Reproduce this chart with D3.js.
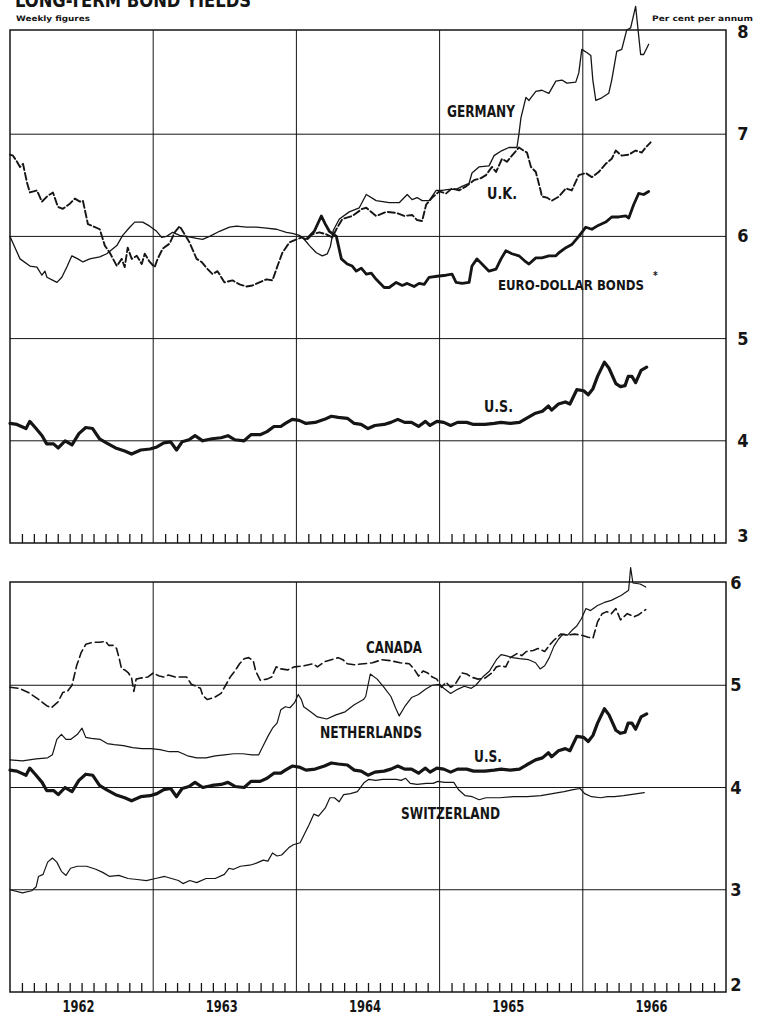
<!DOCTYPE html>
<html>
<head>
<meta charset="utf-8">
<script src="https://cdn.jsdelivr.net/npm/d3@7/dist/d3.min.js"></script>
<style>
  html, body { margin: 0; padding: 0; background: #fff; }
  svg { display: block; }
</style>
</head>
<body>
<svg id="chart" width="757" height="1018"></svg>
<script>
// ---------- DATA (decimal year, per cent per annum) ----------
const yearLabels = ["1962", "1963", "1964", "1965", "1966"];
const topTicks = [3, 4, 5, 6, 7, 8];
const bottomTicks = [2, 3, 4, 5, 6];

const germany = [
  [1962.000,6.00],[1962.070,5.78],[1962.139,5.71],[1962.188,5.70],[1962.223,5.62],[1962.244,5.66],[1962.258,5.60],
  [1962.300,5.57],[1962.328,5.55],[1962.362,5.60],[1962.397,5.70],[1962.432,5.81],[1962.474,5.78],[1962.509,5.75],
  [1962.557,5.78],[1962.627,5.80],[1962.676,5.83],[1962.746,5.91],[1962.787,6.01],[1962.836,6.09],[1962.871,6.14],
  [1962.927,6.14],[1962.976,6.10],[1963.024,6.05],[1963.059,5.99],[1963.094,6.00],[1963.136,6.04],[1963.185,6.01],
  [1963.233,6.00],[1963.303,5.98],[1963.345,5.97],[1963.394,6.00],[1963.463,6.05],[1963.533,6.09],[1963.582,6.10],
  [1963.652,6.09],[1963.721,6.09],[1963.791,6.08],[1963.861,6.07],[1963.930,6.04],[1963.972,6.03],[1964.021,6.01],
  [1964.056,5.97],[1964.091,5.91],[1964.139,5.84],[1964.181,5.81],[1964.216,5.83],[1964.237,5.90],[1964.258,6.06],
  [1964.300,6.17],[1964.369,6.24],[1964.439,6.28],[1964.488,6.41],[1964.557,6.35],[1964.648,6.33],[1964.718,6.33],
  [1964.774,6.41],[1964.808,6.36],[1964.843,6.38],[1964.878,6.35],[1964.927,6.35],[1964.976,6.45],[1965.017,6.45],
  [1965.066,6.46],[1965.115,6.46],[1965.157,6.49],[1965.206,6.52],[1965.226,6.62],[1965.275,6.68],[1965.345,6.69],
  [1965.380,6.79],[1965.436,6.84],[1965.484,6.87],[1965.540,6.87],[1965.554,7.00],[1965.568,7.16],[1965.603,7.36],
  [1965.624,7.33],[1965.672,7.42],[1965.714,7.43],[1965.763,7.40],[1965.812,7.52],[1965.854,7.53],[1965.889,7.50],
  [1965.951,7.51],[1965.972,7.60],[1965.993,7.83],[1966.028,7.80],[1966.056,7.77],[1966.070,7.53],[1966.091,7.33],
  [1966.125,7.35],[1966.181,7.40],[1966.202,7.53],[1966.237,7.81],[1966.272,7.83],[1966.307,8.02],[1966.334,8.04],
  [1966.369,8.25],[1966.404,7.78],[1966.425,7.78],[1966.460,7.88]
];

const uk = [
  [1962.000,6.80],[1962.021,6.79],[1962.049,6.73],[1962.070,6.68],[1962.091,6.71],[1962.118,6.53],[1962.139,6.43],
  [1962.188,6.45],[1962.223,6.34],[1962.258,6.39],[1962.300,6.43],[1962.334,6.29],[1962.369,6.27],[1962.418,6.32],
  [1962.453,6.37],[1962.488,6.34],[1962.509,6.35],[1962.544,6.12],[1962.578,6.10],[1962.627,6.07],[1962.662,5.91],
  [1962.697,5.84],[1962.746,5.71],[1962.780,5.78],[1962.801,5.70],[1962.822,5.89],[1962.850,5.78],[1962.885,5.81],
  [1962.920,5.73],[1962.941,5.83],[1962.976,5.75],[1963.010,5.70],[1963.031,5.78],[1963.066,5.88],[1963.115,5.93],
  [1963.150,6.04],[1963.185,6.10],[1963.220,6.02],[1963.254,5.94],[1963.303,5.78],[1963.338,5.75],[1963.380,5.68],
  [1963.415,5.63],[1963.449,5.66],[1963.498,5.55],[1963.554,5.57],[1963.603,5.53],[1963.652,5.51],[1963.693,5.52],
  [1963.742,5.55],[1963.791,5.58],[1963.833,5.57],[1963.868,5.71],[1963.902,5.84],[1963.951,5.94],[1964.000,5.97],
  [1964.035,5.99],[1964.070,5.97],[1964.111,6.02],[1964.160,6.04],[1964.209,6.02],[1964.251,5.99],[1964.279,6.07],
  [1964.321,6.17],[1964.390,6.20],[1964.460,6.27],[1964.488,6.28],[1964.557,6.20],[1964.627,6.24],[1964.697,6.23],
  [1964.753,6.20],[1964.808,6.21],[1964.843,6.16],[1964.878,6.15],[1964.906,6.31],[1964.948,6.38],[1964.997,6.44],
  [1965.045,6.42],[1965.087,6.47],[1965.136,6.45],[1965.185,6.49],[1965.240,6.55],[1965.289,6.57],[1965.324,6.60],
  [1965.366,6.68],[1965.394,6.63],[1965.436,6.76],[1965.470,6.73],[1965.505,6.79],[1965.554,6.87],[1965.575,6.85],
  [1965.610,6.82],[1965.638,6.68],[1965.672,6.63],[1965.707,6.44],[1965.714,6.39],[1965.749,6.38],[1965.784,6.35],
  [1965.833,6.39],[1965.882,6.47],[1965.923,6.45],[1965.972,6.60],[1966.021,6.62],[1966.063,6.58],[1966.111,6.63],
  [1966.160,6.71],[1966.202,6.76],[1966.230,6.84],[1966.272,6.79],[1966.321,6.80],[1966.369,6.84],[1966.411,6.82],
  [1966.439,6.87],[1966.474,6.92]
];

const euroDollar = [
  [1964.077,5.98],[1964.125,6.05],[1964.174,6.20],[1964.202,6.12],[1964.230,6.05],[1964.279,6.00],[1964.314,5.78],
  [1964.355,5.73],[1964.390,5.71],[1964.418,5.66],[1964.453,5.69],[1964.488,5.63],[1964.523,5.64],[1964.557,5.58],
  [1964.613,5.50],[1964.648,5.50],[1964.697,5.55],[1964.739,5.52],[1964.774,5.54],[1964.822,5.51],[1964.857,5.54],
  [1964.892,5.53],[1964.927,5.60],[1964.983,5.61],[1965.045,5.62],[1965.087,5.63],[1965.115,5.55],[1965.157,5.54],
  [1965.206,5.55],[1965.226,5.71],[1965.261,5.78],[1965.296,5.73],[1965.345,5.66],[1965.394,5.68],[1965.429,5.78],
  [1965.463,5.86],[1965.505,5.83],[1965.554,5.81],[1965.603,5.75],[1965.624,5.73],[1965.672,5.79],[1965.714,5.79],
  [1965.763,5.81],[1965.812,5.81],[1965.833,5.84],[1965.882,5.89],[1965.923,5.92],[1965.972,6.00],[1966.021,6.09],
  [1966.063,6.07],[1966.111,6.11],[1966.160,6.14],[1966.202,6.19],[1966.251,6.19],[1966.300,6.20],[1966.321,6.18],
  [1966.355,6.31],[1966.390,6.42],[1966.425,6.41],[1966.460,6.44]
];

const us = [
  [1962.000,4.17],[1962.048,4.16],[1962.112,4.12],[1962.138,4.19],[1962.176,4.13],[1962.224,4.05],[1962.256,3.97],
  [1962.304,3.97],[1962.337,3.93],[1962.385,4.00],[1962.433,3.96],[1962.481,4.07],[1962.529,4.13],[1962.577,4.12],
  [1962.625,4.02],[1962.673,3.98],[1962.737,3.93],[1962.801,3.90],[1962.849,3.87],[1962.913,3.91],[1962.978,3.92],
  [1963.026,3.94],[1963.074,3.98],[1963.122,3.99],[1963.163,3.91],[1963.202,3.99],[1963.250,4.01],[1963.292,4.05],
  [1963.346,4.00],[1963.410,4.02],[1963.474,4.03],[1963.522,4.05],[1963.571,4.01],[1963.635,4.00],[1963.683,4.06],
  [1963.747,4.06],[1963.795,4.09],[1963.843,4.14],[1963.891,4.14],[1963.923,4.17],[1963.971,4.21],[1964.019,4.20],
  [1964.067,4.17],[1964.131,4.18],[1964.196,4.21],[1964.244,4.24],[1964.292,4.23],[1964.356,4.22],[1964.404,4.17],
  [1964.452,4.16],[1964.500,4.12],[1964.548,4.15],[1964.612,4.16],[1964.660,4.18],[1964.708,4.21],[1964.756,4.18],
  [1964.804,4.18],[1964.853,4.14],[1964.901,4.19],[1964.933,4.15],[1964.981,4.19],[1965.029,4.18],[1965.077,4.15],
  [1965.125,4.18],[1965.189,4.18],[1965.237,4.16],[1965.317,4.16],[1965.381,4.17],[1965.429,4.18],[1965.494,4.17],
  [1965.558,4.18],[1965.606,4.22],[1965.670,4.27],[1965.718,4.29],[1965.760,4.34],[1965.782,4.30],[1965.830,4.36],
  [1965.878,4.38],[1965.910,4.36],[1965.958,4.50],[1966.006,4.49],[1966.038,4.45],[1966.071,4.51],[1966.103,4.63],
  [1966.151,4.77],[1966.183,4.71],[1966.231,4.56],[1966.263,4.53],[1966.295,4.54],[1966.317,4.63],[1966.343,4.63],
  [1966.369,4.57],[1966.407,4.69],[1966.446,4.72]
];

const canada = [
  [1962.000,4.98],[1962.064,4.97],[1962.128,4.93],[1962.192,4.87],[1962.256,4.80],[1962.288,4.78],[1962.337,4.84],
  [1962.369,4.93],[1962.401,4.94],[1962.433,5.00],[1962.465,5.19],[1962.497,5.32],[1962.529,5.40],[1962.577,5.42],
  [1962.625,5.42],[1962.667,5.43],[1962.689,5.39],[1962.721,5.39],[1962.744,5.36],[1962.763,5.26],[1962.779,5.16],
  [1962.801,5.15],[1962.827,5.12],[1962.849,5.07],[1962.865,4.94],[1962.881,5.06],[1962.913,5.07],[1962.962,5.08],
  [1963.000,5.12],[1963.042,5.09],[1963.074,5.08],[1963.106,5.10],[1963.154,5.08],[1963.202,5.08],[1963.234,5.08],
  [1963.266,5.01],[1963.298,4.99],[1963.330,4.97],[1963.346,4.90],[1963.378,4.86],[1963.426,4.88],[1963.474,4.92],
  [1963.506,5.00],[1963.538,5.08],[1963.571,5.14],[1963.603,5.21],[1963.635,5.26],[1963.667,5.27],[1963.699,5.24],
  [1963.715,5.14],[1963.747,5.05],[1963.795,5.06],[1963.827,5.08],[1963.859,5.18],[1963.891,5.16],[1963.939,5.15],
  [1963.987,5.18],[1964.051,5.19],[1964.115,5.21],[1964.147,5.18],[1964.196,5.23],[1964.244,5.25],[1964.292,5.27],
  [1964.324,5.25],[1964.356,5.21],[1964.404,5.20],[1964.468,5.21],[1964.532,5.22],[1964.596,5.25],[1964.660,5.24],
  [1964.724,5.22],[1964.788,5.21],[1964.821,5.16],[1964.853,5.09],[1964.885,5.14],[1964.917,5.12],[1964.949,5.08],
  [1964.981,5.06],[1965.013,4.98],[1965.045,5.03],[1965.077,4.98],[1965.109,5.01],[1965.157,5.12],[1965.189,5.11],
  [1965.221,5.08],[1965.269,5.06],[1965.317,5.07],[1965.365,5.12],[1965.397,5.18],[1965.429,5.19],[1965.462,5.18],
  [1965.494,5.27],[1965.542,5.31],[1965.574,5.29],[1965.606,5.33],[1965.654,5.34],[1965.686,5.36],[1965.734,5.33],
  [1965.766,5.39],[1965.798,5.44],[1965.846,5.50],[1965.894,5.49],[1965.942,5.50],[1965.990,5.49],[1966.038,5.47],
  [1966.071,5.46],[1966.103,5.62],[1966.135,5.70],[1966.167,5.72],[1966.199,5.70],[1966.231,5.75],[1966.263,5.64],
  [1966.311,5.70],[1966.359,5.67],[1966.391,5.69],[1966.439,5.74]
];

const netherlands = [
  [1962.000,4.27],[1962.087,4.26],[1962.183,4.28],[1962.263,4.29],[1962.296,4.32],[1962.327,4.47],[1962.359,4.52],
  [1962.391,4.47],[1962.423,4.47],[1962.471,4.52],[1962.503,4.58],[1962.529,4.49],[1962.567,4.48],[1962.631,4.47],
  [1962.679,4.43],[1962.728,4.42],[1962.792,4.41],[1962.856,4.39],[1962.920,4.38],[1962.984,4.38],[1963.048,4.37],
  [1963.112,4.35],[1963.176,4.35],[1963.240,4.31],[1963.304,4.29],[1963.369,4.29],[1963.433,4.31],[1963.497,4.32],
  [1963.561,4.33],[1963.625,4.33],[1963.689,4.32],[1963.737,4.32],[1963.769,4.41],[1963.801,4.50],[1963.833,4.58],
  [1963.865,4.63],[1963.891,4.76],[1963.923,4.79],[1963.955,4.78],[1963.987,4.83],[1964.013,4.91],[1964.035,4.86],
  [1964.051,4.79],[1964.099,4.74],[1964.147,4.69],[1964.212,4.67],[1964.276,4.71],[1964.340,4.74],[1964.404,4.81],
  [1964.468,4.86],[1964.484,4.89],[1964.516,5.11],[1964.564,5.06],[1964.612,4.98],[1964.660,4.89],[1964.692,4.78],
  [1964.718,4.70],[1964.756,4.79],[1964.804,4.88],[1964.853,4.91],[1964.901,4.96],[1964.949,5.00],[1964.997,5.01],
  [1965.029,4.97],[1965.077,4.92],[1965.125,4.96],[1965.173,4.99],[1965.221,4.97],[1965.253,5.00],[1965.301,5.08],
  [1965.349,5.14],[1965.397,5.25],[1965.429,5.30],[1965.462,5.29],[1965.510,5.27],[1965.558,5.26],[1965.622,5.25],
  [1965.670,5.22],[1965.702,5.16],[1965.734,5.19],[1965.766,5.27],[1965.798,5.38],[1965.830,5.45],[1965.862,5.50],
  [1965.894,5.49],[1965.926,5.54],[1965.958,5.58],[1965.990,5.65],[1966.022,5.75],[1966.054,5.73],[1966.103,5.78],
  [1966.151,5.81],[1966.199,5.83],[1966.270,5.88],[1966.320,5.93],[1966.334,6.15],[1966.350,6.00],[1966.400,5.99],
  [1966.440,5.96]
];

const switzerland = [
  [1962.000,3.00],[1962.087,2.97],[1962.151,2.99],[1962.183,3.03],[1962.199,3.13],[1962.231,3.15],[1962.263,3.27],
  [1962.296,3.31],[1962.327,3.27],[1962.359,3.18],[1962.391,3.14],[1962.423,3.21],[1962.471,3.23],[1962.535,3.23],
  [1962.599,3.20],[1962.647,3.17],[1962.696,3.13],[1962.760,3.14],[1962.824,3.11],[1962.888,3.10],[1962.952,3.09],
  [1963.016,3.11],[1963.080,3.13],[1963.128,3.11],[1963.176,3.09],[1963.208,3.06],[1963.256,3.09],[1963.304,3.07],
  [1963.369,3.11],[1963.433,3.11],[1963.497,3.15],[1963.529,3.21],[1963.561,3.20],[1963.609,3.23],[1963.673,3.24],
  [1963.721,3.26],[1963.769,3.29],[1963.801,3.28],[1963.833,3.36],[1963.865,3.33],[1963.897,3.34],[1963.946,3.41],
  [1963.978,3.44],[1964.026,3.46],[1964.058,3.55],[1964.090,3.64],[1964.122,3.74],[1964.154,3.72],[1964.202,3.80],
  [1964.234,3.90],[1964.266,3.90],[1964.298,3.86],[1964.330,3.93],[1964.378,3.94],[1964.426,3.96],[1964.474,4.05],
  [1964.506,4.08],[1964.554,4.07],[1964.603,4.08],[1964.651,4.08],[1964.699,4.08],[1964.731,4.07],[1964.763,4.09],
  [1964.795,4.04],[1964.843,4.03],[1964.907,4.04],[1964.955,4.04],[1964.987,4.06],[1965.035,4.05],[1965.099,4.05],
  [1965.131,3.98],[1965.179,3.92],[1965.228,3.91],[1965.276,3.88],[1965.324,3.90],[1965.420,3.90],[1965.516,3.91],
  [1965.612,3.91],[1965.708,3.92],[1965.788,3.94],[1965.869,3.96],[1965.933,3.98],[1965.981,3.99],[1966.013,3.94],
  [1966.061,3.91],[1966.125,3.90],[1966.173,3.91],[1966.221,3.91],[1966.285,3.92],[1966.333,3.93],[1966.381,3.94],
  [1966.429,3.95]
];

// ---------- DRAWING ----------
const svg = d3.select("#chart");
const ink = "#151515";
const FONT = "'Liberation Sans Narrow', 'DejaVu Sans Condensed', 'Arial Narrow', sans-serif";

const x = d3.scaleLinear().domain([1962, 1967]).range([10, 726]);
const yTop = d3.scaleLinear().domain([3, 8]).range([543, 32]);
const yBot = d3.scaleLinear().domain([2, 6]).range([992, 583]);

const panels = [
  { y: yTop, top: 30, bottom: 543, grid: [4, 5, 6, 7], ticks: topTicks, labelX: 743 },
  { y: yBot, top: 582, bottom: 992, grid: [3, 4, 5], ticks: bottomTicks, labelX: 736 }
];

const months = d3.range(1, 60).filter(m => m % 12 !== 0).map(m => 1962 + m / 12);
const yearBounds = [1963, 1964, 1965, 1966];

panels.forEach(p => {
  const g = svg.append("g");
  g.selectAll("line.h").data(p.grid).join("line")
    .attr("x1", x(1962)).attr("x2", x(1967))
    .attr("y1", d => p.y(d)).attr("y2", d => p.y(d))
    .attr("stroke", ink).attr("stroke-width", 1);
  g.selectAll("line.v").data(yearBounds).join("line")
    .attr("x1", d => x(d)).attr("x2", d => x(d))
    .attr("y1", p.top).attr("y2", p.bottom)
    .attr("stroke", ink).attr("stroke-width", 1);
  g.append("rect")
    .attr("x", x(1962)).attr("y", p.top)
    .attr("width", x(1967) - x(1962)).attr("height", p.bottom - p.top)
    .attr("fill", "none").attr("stroke", ink).attr("stroke-width", 1.5);
  const ax = g.append("g").attr("transform", `translate(0,${p.bottom})`)
    .call(d3.axisTop(x).tickValues(months).tickSize(9).tickSizeOuter(0).tickFormat(""));
  ax.select(".domain").remove();
  ax.selectAll("line").attr("stroke", ink).attr("stroke-width", 1.3);
  g.selectAll("text.val").data(p.ticks).join("text")
    .attr("x", p.labelX)
    .attr("y", d => p.y(d) + (d === p.ticks[0] ? -1 : 6))
    .attr("text-anchor", "middle")
    .attr("font-family", FONT).attr("font-weight", "bold")
    .attr("font-size", 18).attr("fill", ink)
    .text(d => d);
});

// year labels
svg.selectAll("text.year").data(yearLabels).join("text")
  .attr("x", (d, i) => x(1962 + i + 0.5) - 3)
  .attr("y", 1012)
  .attr("text-anchor", "middle")
  .attr("font-family", FONT).attr("font-weight", "bold")
  .attr("font-size", 16).attr("fill", ink)
  .attr("textLength", 32).attr("lengthAdjust", "spacingAndGlyphs")
  .text(d => d);

// title (cut off at top, as in the original scan) and headers
svg.append("text").attr("x", 15).attr("y", 7)
  .attr("font-family", FONT).attr("font-weight", "bold").attr("font-size", 19)
  .attr("textLength", 236).attr("lengthAdjust", "spacingAndGlyphs").attr("fill", ink)
  .text("LONG-TERM BOND YIELDS");
svg.append("text").attr("x", 16).attr("y", 21)
  .attr("font-family", "'DejaVu Sans', sans-serif").attr("font-weight", "bold").attr("font-size", 7.5)
  .attr("textLength", 74).attr("lengthAdjust", "spacingAndGlyphs").attr("fill", ink)
  .text("Weekly figures");
svg.append("text").attr("x", 652).attr("y", 21)
  .attr("font-family", "'DejaVu Sans', sans-serif").attr("font-weight", "bold").attr("font-size", 7.5)
  .attr("textLength", 101).attr("lengthAdjust", "spacingAndGlyphs").attr("fill", ink)
  .text("Per cent per annum");

// series
const series = [
  { data: germany, y: yTop, w: 1.3, dash: null },
  { data: uk, y: yTop, w: 1.9, dash: "7,3" },
  { data: euroDollar, y: yTop, w: 2.8, dash: null },
  { data: us, y: yTop, w: 3.2, dash: null },
  { data: canada, y: yBot, w: 1.6, dash: "8,4" },
  { data: netherlands, y: yBot, w: 1.2, dash: null },
  { data: switzerland, y: yBot, w: 1.2, dash: null },
  { data: us, y: yBot, w: 3.2, dash: null }
];
series.forEach(s => {
  const line = d3.line().x(d => x(d[0])).y(d => s.y(d[1]));
  svg.append("path").datum(s.data)
    .attr("d", line)
    .attr("fill", "none").attr("stroke", ink)
    .attr("stroke-width", s.w)
    .attr("stroke-linejoin", "round").attr("stroke-linecap", "round")
    .attr("stroke-dasharray", s.dash);
});

// series labels
const labels = [
  { t: "GERMANY", x: 447, y: 117, w: 68, fs: 16 },
  { t: "U.K.", x: 487, y: 199, w: 30, fs: 16 },
  { t: "EURO-DOLLAR BONDS", x: 498, y: 290, w: 146, fs: 14 },
  { t: "U.S.", x: 484, y: 412, w: 29, fs: 16 },
  { t: "CANADA", x: 366, y: 653, w: 56, fs: 16 },
  { t: "NETHERLANDS", x: 320, y: 738, w: 102, fs: 16 },
  { t: "U.S.", x: 474, y: 762, w: 28, fs: 16 },
  { t: "SWITZERLAND", x: 401, y: 819, w: 99, fs: 16 }
];
svg.selectAll("text.lab").data(labels).join("text")
  .attr("x", d => d.x).attr("y", d => d.y)
  .attr("font-family", FONT).attr("font-weight", "bold").attr("font-size", d => d.fs)
  .attr("textLength", d => d.w).attr("lengthAdjust", "spacingAndGlyphs")
  .attr("fill", ink)
  .text(d => d.t);
svg.append("text").attr("x", 653).attr("y", 279)
  .attr("font-family", FONT).attr("font-weight", "bold").attr("font-size", 10).attr("fill", ink)
  .text("*");
</script>
</body>
</html>
